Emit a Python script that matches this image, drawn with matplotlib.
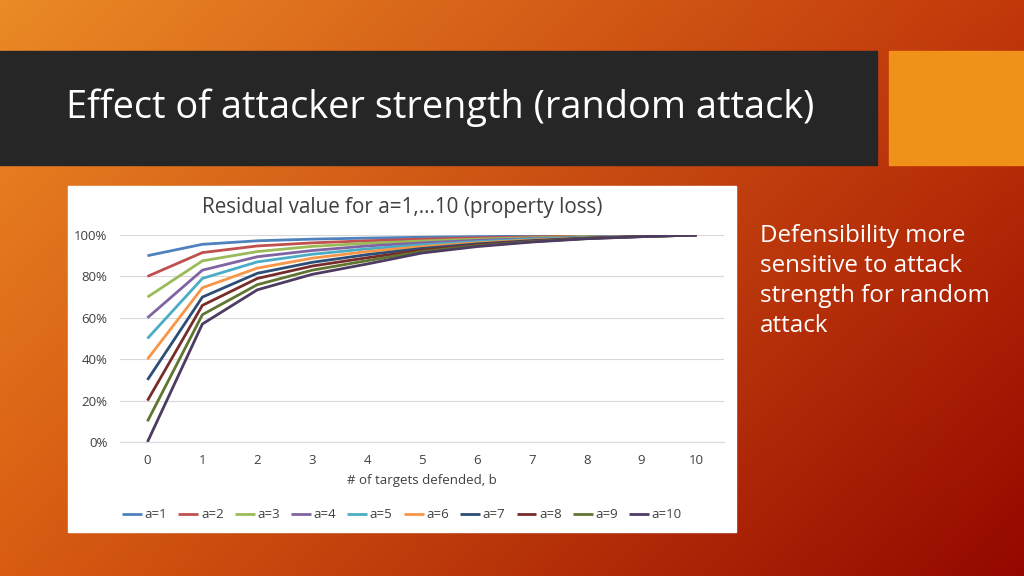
import numpy as np
import matplotlib
matplotlib.use("Agg")
import matplotlib.pyplot as plt
from matplotlib.patches import Rectangle
from matplotlib.ticker import PercentFormatter

# --- data ---
targets_defended = list(range(11))
series_names = ["a=%d" % a for a in range(1, 11)]
a1 = [0.90, 0.955, 0.972, 0.980, 0.985, 0.989, 0.992, 0.995, 0.997, 0.999, 1.0]
a2 = [0.80, 0.915, 0.947, 0.962, 0.972, 0.980, 0.986, 0.991, 0.995, 0.998, 1.0]
a3 = [0.70, 0.875, 0.920, 0.945, 0.960, 0.971, 0.980, 0.987, 0.993, 0.997, 1.0]
a4 = [0.60, 0.830, 0.895, 0.925, 0.947, 0.962, 0.974, 0.983, 0.990, 0.996, 1.0]
a5 = [0.50, 0.790, 0.870, 0.907, 0.933, 0.953, 0.968, 0.980, 0.988, 0.995, 1.0]
a6 = [0.40, 0.745, 0.840, 0.888, 0.920, 0.944, 0.962, 0.976, 0.986, 0.994, 1.0]
a7 = [0.30, 0.700, 0.815, 0.868, 0.905, 0.935, 0.957, 0.973, 0.985, 0.993, 1.0]
a8 = [0.20, 0.660, 0.790, 0.850, 0.890, 0.927, 0.952, 0.970, 0.984, 0.993, 1.0]
a9 = [0.10, 0.615, 0.760, 0.830, 0.876, 0.920, 0.948, 0.968, 0.983, 0.992, 1.0]
a10 = [0.00, 0.570, 0.735, 0.810, 0.860, 0.913, 0.944, 0.966, 0.982, 0.992, 1.0]
series = [a1, a2, a3, a4, a5, a6, a7, a8, a9, a10]

colores = ["#4F81BD", "#C0504D", "#9BBB59", "#8064A2", "#4BACC6",
           "#F79646", "#2C4D75", "#772C2A", "#5F7530", "#4D3B62"]

W, H = 1024, 576
fig = plt.figure(figsize=(W / 100, H / 100), dpi=100)

# --- fondo degradado del slide ---
bg = fig.add_axes([0, 0, 1, 1])
bg.set_axis_off()
tl = np.array([0.92, 0.54, 0.15])
tr = np.array([0.76, 0.22, 0.04])
bl = np.array([0.85, 0.36, 0.07])
br = np.array([0.58, 0.03, 0.00])
u = np.linspace(0, 1, 256)[None, :, None]
v = np.linspace(0, 1, 144)[:, None, None]
img = (1 - v) * ((1 - u) * tl + u * tr) + v * ((1 - u) * bl + u * br)
bg.imshow(img, extent=[0, W, H, 0], aspect="auto", interpolation="bilinear")
bg.set_xlim(0, W)
bg.set_ylim(H, 0)

# barra del titulo y cuadro naranja
bg.add_patch(Rectangle((0, 51), 877, 114, color="#262626", zorder=2))
bg.add_patch(Rectangle((889, 51), 135, 114, color="#F0921A", zorder=2))
bg.text(66, 108, "Effect of attacker strength (random attack)", color="white",
        fontsize=27.3, family="Open Sans", va="center", ha="left", zorder=3)

# caja blanca del grafico
bg.add_patch(Rectangle((68, 186), 668, 346, color="white", zorder=2))
bg.text(402, 208, "Residual value for a=1,...10 (property loss)", color="#404040",
        fontsize=14.9, family="Open Sans", ha="center", va="center", zorder=3)

# texto lateral
bg.text(760, 224, "Defensibility more\nsensitive to attack\nstrength for random\nattack",
        color="white", fontsize=17.4, family="Open Sans", ha="left", va="top",
        linespacing=1.33, zorder=3)

# --- grafico de lineas ---
ax = fig.add_axes([120 / W, 1 - 442 / H, 604 / W, 207 / H])
ax.set_facecolor("none")
for nombre, vals, c in zip(series_names, series, colores):
    ax.plot(targets_defended, vals, color=c, lw=2.0, label=nombre,
            solid_capstyle="butt")

ax.set_xlim(-0.5, 10.5)
ax.set_ylim(0, 1)
ax.set_yticks([0, 0.2, 0.4, 0.6, 0.8, 1.0])
ax.yaxis.set_major_formatter(PercentFormatter(1.0, decimals=0))
ax.set_xticks(targets_defended)
ax.grid(axis="y", color="#D9D9D9", lw=0.8)
ax.set_axisbelow(True)
for s in ["top", "right", "left"]:
    ax.spines[s].set_visible(False)
ax.spines["bottom"].set_color("#D9D9D9")
ax.tick_params(length=0, labelsize=9.5, colors="#404040", pad=9)
for t in ax.get_xticklabels() + ax.get_yticklabels():
    t.set_family("Open Sans")
ax.set_xlabel("# of targets defended, b", fontsize=9.5, color="#404040",
              family="Open Sans", labelpad=5)

leg = ax.legend(loc="center", bbox_to_anchor=(282 / 604, (442 - 515) / 207),
                ncol=10, frameon=False, handlelength=1.5, handletextpad=0.2,
                columnspacing=0.85, prop={"family": "Open Sans", "size": 9.5})
for t in leg.get_texts():
    t.set_color("#404040")

fig.savefig("out.png", dpi=100)
